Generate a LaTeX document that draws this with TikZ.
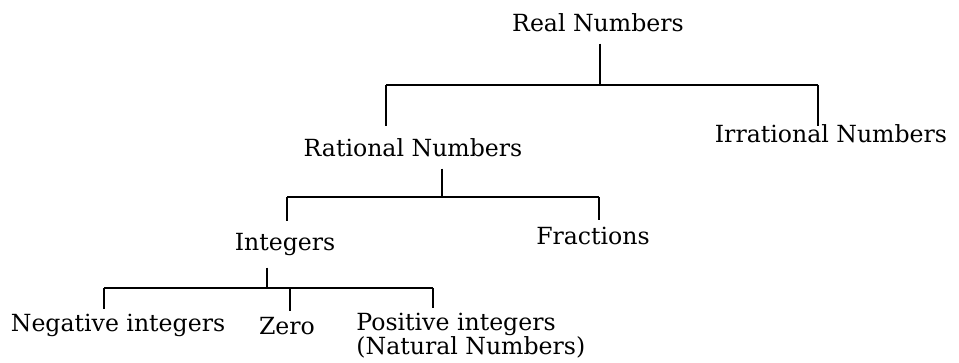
\documentclass[tikz,border=0pt]{standalone}
\usepackage{fontspec}
\setmainfont{DejaVu Serif}
\usetikzlibrary{positioning}
\tikzset{
  numlbl/.style={inner sep=0pt,font=\fontsize{11.8}{12}\selectfont},
  tree/.style={line width=0.8pt},
}
\begin{document}
\begin{tikzpicture}[x=0.5pt,y=-0.5pt]
  \useasboundingbox (0,0) rectangle (959,363);
  \node[numlbl,anchor=base] (real) at (598,32) {Real Numbers};
  \node[numlbl,anchor=base] (rational) at (413,157) {Rational Numbers};
  \node[numlbl,anchor=base] (irrational) at (831,143) {Irrational Numbers};
  \node[numlbl,anchor=base] (integers) at (285,251) {Integers};
  \node[numlbl,anchor=base] (fractions) at (593,245) {Fractions};
  \node[numlbl,anchor=base] (negative) at (118,332) {Negative integers};
  \node[numlbl,anchor=base] (zero) at (287,335) {Zero};
  \node[numlbl,anchor=base west,align=left] (positive) at (356,355) {Positive integers\\(Natural Numbers)};
  \coordinate (realbus) at (600,85);
  \coordinate (ratdrop) at (386,85);
  \coordinate (irrdrop) at (818,85);
  \draw[tree] ([yshift=-5.5pt]real.south -| realbus) -- (realbus);
  \draw[tree] (ratdrop) -- (irrdrop);
  \draw[tree] (ratdrop) -- ++(0,41);
  \draw[tree] (irrdrop) -- ++(0,41);
  \coordinate (ratbus) at (442,197);
  \coordinate (intdrop) at (287,197);
  \coordinate (fracdrop) at (599,197);
  \draw[tree] ([yshift=-5.5pt]rational.south -| ratbus) -- (ratbus);
  \draw[tree] (intdrop) -- (fracdrop);
  \draw[tree] (intdrop) -- ++(0,24);
  \draw[tree] (fracdrop) -- ++(0,23);
  \coordinate (intbus) at (267,288);
  \coordinate (negdrop) at (104,288);
  \coordinate (zerodrop) at (290,288);
  \coordinate (posdrop) at (433,288);
  \draw[tree] ([yshift=-5.5pt]integers.south -| intbus) -- (intbus);
  \draw[tree] (negdrop) -- (posdrop);
  \draw[tree] (negdrop) -- ++(0,21);
  \draw[tree] (zerodrop) -- ++(0,23);
  \draw[tree] (posdrop) -- ++(0,20);
\end{tikzpicture}
\end{document}
